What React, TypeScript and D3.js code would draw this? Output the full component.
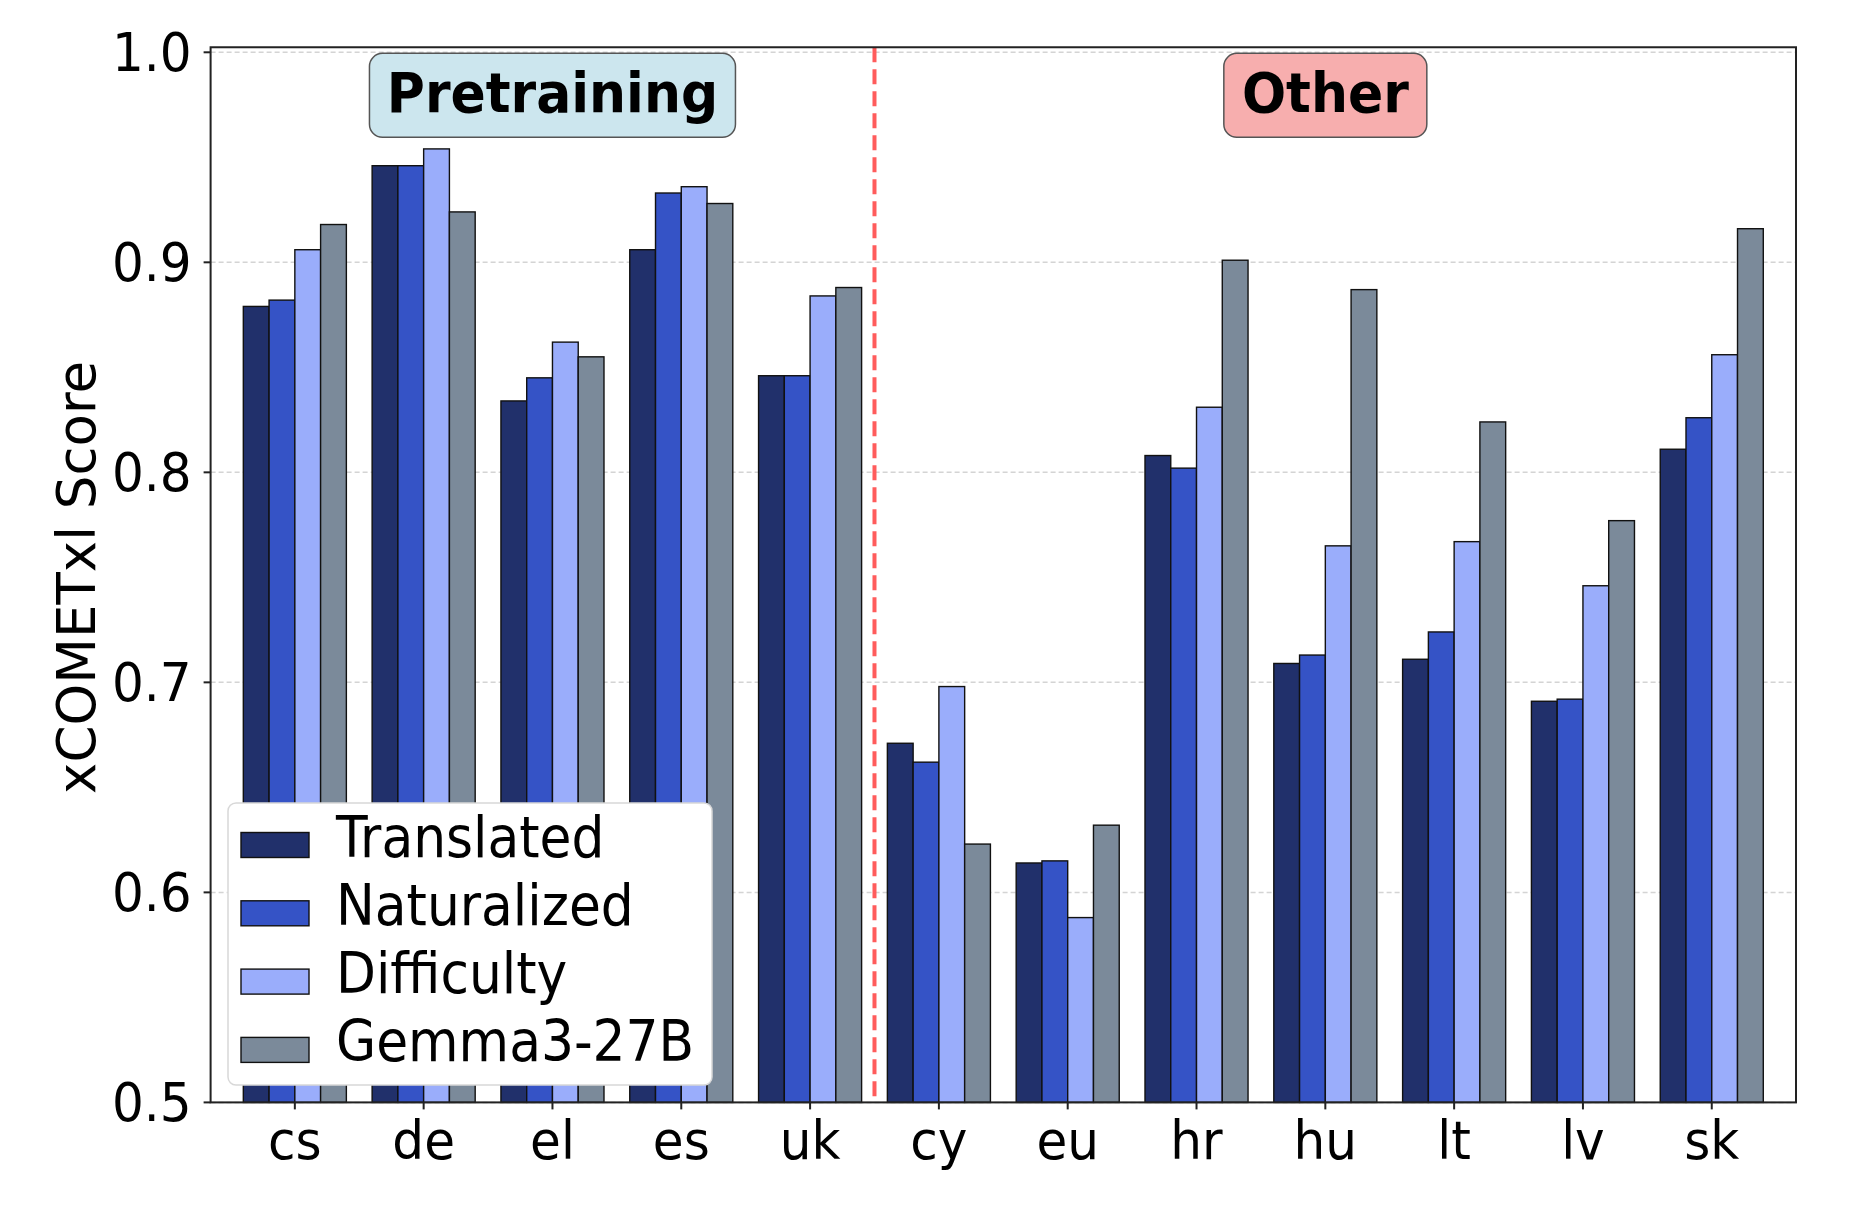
import React from "react";
import * as d3 from "d3";

const categories = ["cs", "de", "el", "es", "uk", "cy", "eu", "hr", "hu", "lt", "lv", "sk"];
const seriesNames = ["Translated", "Naturalized", "Difficulty", "Gemma3-27B"];
const translated = [0.879, 0.946, 0.834, 0.906, 0.846, 0.671, 0.614, 0.808, 0.709, 0.711, 0.691, 0.811];
const naturalized = [0.882, 0.946, 0.845, 0.933, 0.846, 0.662, 0.615, 0.802, 0.713, 0.724, 0.692, 0.826];
const difficulty = [0.906, 0.954, 0.862, 0.936, 0.884, 0.698, 0.588, 0.831, 0.765, 0.767, 0.746, 0.856];
const gemma = [0.918, 0.924, 0.855, 0.928, 0.888, 0.623, 0.632, 0.901, 0.887, 0.824, 0.777, 0.916];
const seriesColors = ["#21306b", "#3553c6", "#9aadfb", "#7b8a9a"];
const yTicks = [0.5, 0.6, 0.7, 0.8, 0.9, 1.0];
const groupLabels = [
  { text: "Pretraining", x: 2, y: 0.9795, fill: "#cce6ee" },
  { text: "Other", x: 8, y: 0.9795, fill: "#f7aeae" },
];
const dividerX = 4.5;

const W = 1860;
const H = 1216;
const SX = 0.945;

export default function App() {
  const series = [translated, naturalized, difficulty, gemma];
  const x = d3.scaleLinear().domain([-0.654, 11.654]).range([210.6, 1796]);
  const y = d3.scaleLinear().domain([0.5, 1.0]).range([1102.4, 52.3]);
  const yTop = y(1.0024);
  const bw = x(0.2) - x(0);
  const left = x(-0.654);
  const right = x(11.654);
  const bottom = y(0.5);
  const font = "'DejaVu Sans', sans-serif";

  const sText = (
    key: string,
    tx: number,
    ty: number,
    content: string,
    size: number,
    anchor: "start" | "middle" | "end",
    weight: string = "normal",
    sx: number = SX
  ) => (
    <text
      key={key}
      transform={`translate(${tx},${ty}) scale(${sx},1)`}
      fontFamily={font}
      fontSize={size}
      fontWeight={weight}
      textAnchor={anchor}
      fill="#000"
    >
      {content}
    </text>
  );

  return (
    <svg
      width={W}
      height={H}
      style={{ position: "absolute", left: 0, top: 0, background: "#fff" }}
    >
      <rect x={0} y={0} width={W} height={H} fill="#fff" />
      {/* grid */}
      {yTicks.map((t) => (
        <line
          key={"g" + t}
          x1={left}
          x2={right}
          y1={y(t)}
          y2={y(t)}
          stroke="#d4d4d4"
          strokeWidth={1.5}
          strokeDasharray="5,3"
        />
      ))}
      {/* bars */}
      {series.map((vals, si) =>
        vals.map((v, ci) => {
          const cx = x(ci + (si - 1.5) * 0.2);
          return (
            <rect
              key={`b${si}-${ci}`}
              x={cx - bw / 2}
              y={y(v)}
              width={bw}
              height={bottom - y(v)}
              fill={seriesColors[si]}
              stroke="#111"
              strokeWidth={1.4}
            />
          );
        })
      )}
      {/* divider */}
      <line
        x1={x(dividerX)}
        x2={x(dividerX)}
        y1={yTop}
        y2={bottom}
        stroke="#ff5c5c"
        strokeWidth={4}
        strokeDasharray="15,7"
      />
      {/* group labels */}
      {groupLabels.map((g) => {
        const tw = g.text === "Pretraining" ? 328 : 165;
        const bwid = tw + 38;
        const cx = x(g.x);
        const cy = y(g.y);
        return (
          <g key={g.text}>
            <rect
              x={cx - bwid / 2}
              y={cy - 42}
              width={bwid}
              height={84}
              rx={13}
              ry={13}
              fill={g.fill}
              stroke="#555"
              strokeWidth={1.5}
            />
            {sText("t" + g.text, cx, cy + 16.5, g.text, 55, "middle", "bold")}
          </g>
        );
      })}
      {/* frame */}
      <rect
        x={left}
        y={yTop}
        width={right - left}
        height={bottom - yTop}
        fill="none"
        stroke="#222"
        strokeWidth={2}
      />
      {/* y ticks */}
      {yTicks.map((t) => (
        <g key={"yt" + t}>
          <line x1={left - 7} x2={left} y1={y(t)} y2={y(t)} stroke="#222" strokeWidth={2} />
          {sText("yl" + t, left - 19, y(t) + 19, d3.format(".1f")(t), 53, "end")}
        </g>
      ))}
      {/* x ticks */}
      {categories.map((c, i) => (
        <g key={"xt" + c}>
          <line x1={x(i)} x2={x(i)} y1={bottom} y2={bottom + 7} stroke="#222" strokeWidth={2} />
          {sText("xl" + c, x(i), 1159, c, 53, "middle")}
        </g>
      ))}
      {/* y label */}
      <text
        transform={`translate(95,${(y(1) + bottom) / 2}) rotate(-90)`}
        fontFamily={font}
        fontSize={53}
        textAnchor="middle"
        fill="#000"
      >
        xCOMETxl Score
      </text>
      {/* legend */}
      <g>
        <rect
          x={228}
          y={803}
          width={484}
          height={282}
          rx={8}
          ry={8}
          fill="#fff"
          fillOpacity={1}
          stroke="#d8d8d8"
          strokeWidth={1.5}
        />
        {seriesNames.map((n, i) => {
          const cy = 845 + i * 68.3;
          return (
            <g key={"lg" + n}>
              <rect
                x={241}
                y={cy - 12.5}
                width={68}
                height={25}
                fill={seriesColors[i]}
                stroke="#111"
                strokeWidth={1.4}
              />
              {sText("lt" + n, 336, cy + 11.5, n, 57, "start", "normal", 0.91)}
            </g>
          );
        })}
      </g>
    </svg>
  );
}
